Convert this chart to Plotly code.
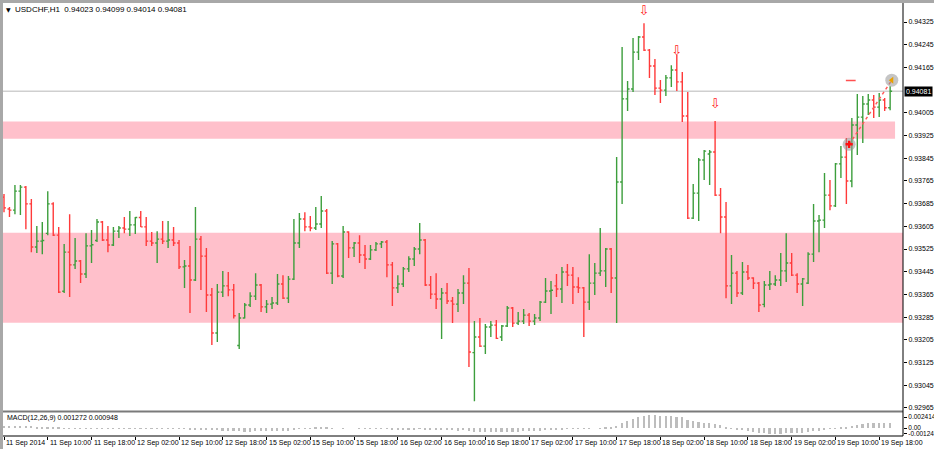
import plotly.graph_objects as go

symbol_title = "USDCHF,H1  0.94023 0.94099 0.94014 0.94081"
macd_title = "MACD(12,26,9) 0.001272 0.000948"

time_labels = ["11 Sep 2014", "11 Sep 10:00", "11 Sep 18:00", "12 Sep 02:00", "12 Sep 10:00",
               "12 Sep 18:00", "15 Sep 02:00", "15 Sep 10:00", "15 Sep 18:00", "16 Sep 02:00",
               "16 Sep 10:00", "16 Sep 18:00", "17 Sep 02:00", "17 Sep 10:00", "17 Sep 18:00",
               "18 Sep 02:00", "18 Sep 10:00", "18 Sep 18:00", "19 Sep 02:00", "19 Sep 10:00",
               "19 Sep 18:00"]
bars_per_label = 8

price_tick_labels = ["0.94325", "0.94245", "0.94165", "0.94005", "0.93925", "0.93845", "0.93765",
                     "0.93685", "0.93605", "0.93525", "0.93445", "0.93365", "0.93285", "0.93205",
                     "0.93125", "0.93045", "0.92965"]
macd_tick_vals = [0.002414, 0.0, -0.00124]
macd_tick_labels = ["0.002414", "0.00", "-0.00124"]

opens = [0.93708,0.93666,0.93662,0.93729,0.93743,0.93684,0.93532,0.93553,0.93580,0.93684,
         0.93574,0.93376,0.93514,0.93469,0.93483,0.93437,0.93536,0.93555,0.93620,0.93557,
         0.93539,0.93588,0.93599,0.93595,0.93610,0.93636,0.93603,0.93553,0.93546,0.93560,
         0.93553,0.93557,0.93546,0.93462,0.93465,0.93416,0.93560,0.93500,0.93363,0.93229,
         0.93373,0.93395,0.93381,0.93185,0.93282,0.93328,0.93359,0.93398,0.93321,0.93331,
         0.93335,0.93402,0.93352,0.93419,0.93546,0.93631,0.93603,0.93599,0.93613,0.93659,
         0.93440,0.93543,0.93430,0.93585,0.93529,0.93546,0.93504,0.93490,0.93522,0.93543,
         0.93550,0.93469,0.93388,0.93402,0.93455,0.93490,0.93525,0.93557,0.93398,0.93366,
         0.93349,0.93370,0.93342,0.93331,0.93370,0.93405,0.93160,0.93215,0.93183,0.93250,
         0.93257,0.93215,0.93254,0.93317,0.93264,0.93271,0.93292,0.93271,0.93282,0.93338,
         0.93377,0.93395,0.93384,0.93444,0.93433,0.93391,0.93388,0.93338,0.93405,0.93440,
         0.93448,0.93525,0.93423,0.93761,0.94054,0.94089,0.94219,0.94272,0.94226,0.94170,
         0.94092,0.94085,0.94128,0.94156,0.94114,0.93994,0.93634,0.93722,0.93839,0.93860,
         0.93867,0.93715,0.93638,0.93395,0.93440,0.93370,0.93444,0.93423,0.93405,0.93330,
         0.93398,0.93402,0.93416,0.93448,0.93476,0.93433,0.93402,0.93405,0.93507,0.93624,
         0.93627,0.93715,0.93677,0.93825,0.93849,0.93765,0.93962,0.93990,0.94036,0.94050,
         0.94025,0.94050,0.94023]

highs = [0.93719,0.93673,0.93751,0.93751,0.93747,0.93701,0.93606,0.93620,0.93729,0.93690,
         0.93603,0.93543,0.93648,0.93564,0.93486,0.93581,0.93592,0.93631,0.93624,0.93606,
         0.93603,0.93606,0.93638,0.93659,0.93638,0.93659,0.93638,0.93585,0.93588,0.93624,
         0.93624,0.93603,0.93557,0.93486,0.93536,0.93673,0.93571,0.93529,0.93388,0.93402,
         0.93448,0.93444,0.93402,0.93300,0.93335,0.93373,0.93440,0.93402,0.93345,0.93356,
         0.93437,0.93433,0.93430,0.93631,0.93652,0.93655,0.93641,0.93673,0.93712,0.93666,
         0.93553,0.93546,0.93606,0.93588,0.93550,0.93574,0.93539,0.93539,0.93550,0.93553,
         0.93557,0.93479,0.93433,0.93462,0.93500,0.93532,0.93617,0.93560,0.93430,0.93440,
         0.93388,0.93405,0.93356,0.93384,0.93433,0.93458,0.93271,0.93282,0.93261,0.93271,
         0.93275,0.93257,0.93324,0.93321,0.93303,0.93314,0.93300,0.93296,0.93342,0.93423,
         0.93412,0.93437,0.93462,0.93472,0.93462,0.93426,0.93391,0.93507,0.93476,0.93599,
         0.93529,0.93529,0.93849,0.94237,0.94117,0.94269,0.94276,0.94321,0.94230,0.94195,
         0.94121,0.94138,0.94173,0.94209,0.94149,0.94078,0.93754,0.93846,0.93874,0.93874,
         0.93976,0.93740,0.93691,0.93504,0.93448,0.93479,0.93469,0.93426,0.93409,0.93412,
         0.93448,0.93433,0.93511,0.93581,0.93511,0.93440,0.93423,0.93514,0.93684,0.93645,
         0.93793,0.93768,0.93828,0.93888,0.93916,0.93987,0.94071,0.94064,0.94071,0.94068,
         0.94075,0.94057,0.94099]

lows = [0.93655,0.93638,0.93648,0.93645,0.93595,0.93514,0.93511,0.93507,0.93574,0.93571,
        0.93370,0.93370,0.93356,0.93455,0.93405,0.93423,0.93476,0.93550,0.93553,0.93514,
        0.93536,0.93564,0.93581,0.93571,0.93578,0.93603,0.93536,0.93536,0.93476,0.93543,
        0.93529,0.93536,0.93455,0.93388,0.93300,0.93412,0.93381,0.93303,0.93187,0.93197,
        0.93356,0.93359,0.93280,0.93173,0.93280,0.93321,0.93345,0.93303,0.93300,0.93314,
        0.93328,0.93349,0.93335,0.93416,0.93529,0.93588,0.93588,0.93592,0.93599,0.93437,
        0.93402,0.93426,0.93423,0.93493,0.93497,0.93476,0.93455,0.93486,0.93518,0.93529,
        0.93426,0.93324,0.93370,0.93391,0.93444,0.93465,0.93507,0.93395,0.93349,0.93314,
        0.93208,0.93331,0.93264,0.93303,0.93331,0.93109,0.92989,0.93180,0.93155,0.93215,
        0.93208,0.93201,0.93250,0.93250,0.93257,0.93261,0.93254,0.93257,0.93271,0.93335,
        0.93296,0.93356,0.93335,0.93395,0.93331,0.93370,0.93215,0.93310,0.93363,0.93430,
        0.93391,0.93370,0.93264,0.93684,0.94011,0.94078,0.94191,0.94223,0.94128,0.94068,
        0.94040,0.94064,0.94096,0.94082,0.93973,0.93631,0.93631,0.93624,0.93768,0.93751,
        0.93712,0.93581,0.93352,0.93331,0.93356,0.93363,0.93416,0.93384,0.93303,0.93320,
        0.93381,0.93395,0.93395,0.93409,0.93430,0.93370,0.93324,0.93402,0.93479,0.93514,
        0.93599,0.93662,0.93673,0.93775,0.93684,0.93743,0.93856,0.93899,0.93997,0.93987,
        0.93990,0.94011,0.94014]

closes = [0.93670,0.93662,0.93729,0.93743,0.93684,0.93532,0.93553,0.93555,0.93684,0.93574,
          0.93373,0.93514,0.93469,0.93483,0.93437,0.93536,0.93540,0.93620,0.93557,0.93539,
          0.93588,0.93599,0.93595,0.93610,0.93636,0.93603,0.93553,0.93546,0.93560,0.93553,
          0.93557,0.93546,0.93462,0.93465,0.93416,0.93560,0.93500,0.93363,0.93229,0.93373,
          0.93395,0.93381,0.93290,0.93282,0.93328,0.93359,0.93398,0.93321,0.93331,0.93335,
          0.93402,0.93352,0.93419,0.93546,0.93631,0.93603,0.93599,0.93613,0.93659,0.93440,
          0.93543,0.93430,0.93585,0.93529,0.93546,0.93504,0.93490,0.93522,0.93543,0.93550,
          0.93469,0.93388,0.93402,0.93455,0.93490,0.93525,0.93557,0.93398,0.93366,0.93349,
          0.93370,0.93342,0.93331,0.93370,0.93405,0.93162,0.93215,0.93183,0.93250,0.93257,
          0.93210,0.93254,0.93317,0.93264,0.93271,0.93292,0.93271,0.93282,0.93338,0.93377,
          0.93380,0.93384,0.93444,0.93433,0.93391,0.93388,0.93338,0.93405,0.93440,0.93448,
          0.93525,0.93423,0.93761,0.94054,0.94089,0.94219,0.94272,0.94226,0.94170,0.94092,
          0.94085,0.94128,0.94156,0.94114,0.93994,0.93634,0.93722,0.93839,0.93870,0.93867,
          0.93715,0.93638,0.93395,0.93440,0.93370,0.93444,0.93423,0.93405,0.93328,0.93398,
          0.93402,0.93416,0.93448,0.93476,0.93433,0.93402,0.93420,0.93507,0.93624,0.93627,
          0.93715,0.93677,0.93825,0.93849,0.93765,0.93962,0.93990,0.94036,0.94050,0.94025,
          0.94050,0.94023,0.94081]

macd_main = [0.00050,0.00050,0.00052,0.00055,0.00055,0.00048,0.00040,0.00035,0.00033,0.00030,
             0.00015,0.00008,0.00002,-0.00002,-0.00008,-0.00008,-0.00007,-0.00004,-0.00003,-0.00003,
             -0.00001,0.00001,0.00002,0.00004,0.00006,0.00006,0.00005,0.00003,0.00002,0.00002,
             0.00002,0.00001,-0.00005,-0.00012,-0.00020,-0.00015,-0.00017,-0.00025,-0.00040,-0.00045,
             -0.00048,-0.00050,-0.00058,-0.00066,-0.00070,-0.00070,-0.00066,-0.00066,-0.00066,-0.00064,
             -0.00056,-0.00053,-0.00046,-0.00030,-0.00012,-0.00002,0.00005,0.00012,0.00020,0.00010,
             0.00008,0.00000,0.00002,0.00000,0.00000,-0.00002,-0.00004,-0.00004,-0.00003,-0.00002,
             -0.00006,-0.00015,-0.00020,-0.00022,-0.00020,-0.00015,-0.00008,-0.00014,-0.00022,-0.00030,
             -0.00035,-0.00040,-0.00045,-0.00046,-0.00044,-0.00060,-0.00070,-0.00080,-0.00082,-0.00082,
             -0.00084,-0.00082,-0.00076,-0.00074,-0.00070,-0.00065,-0.00062,-0.00058,-0.00052,-0.00042,
             -0.00035,-0.00028,-0.00018,-0.00012,-0.00010,-0.00008,-0.00012,-0.00006,0.00000,0.00005,
             0.00012,0.00010,0.00045,0.00110,0.00160,0.00210,0.00250,0.00275,0.00285,0.00285,
             0.00278,0.00272,0.00270,0.00262,0.00245,0.00195,0.00160,0.00140,0.00130,0.00118,
             0.00095,0.00070,0.00030,0.00002,-0.00025,-0.00045,-0.00062,-0.00078,-0.00095,-0.00105,
             -0.00112,-0.00115,-0.00112,-0.00105,-0.00100,-0.00098,-0.00095,-0.00085,-0.00065,-0.00050,
             -0.00028,-0.00012,0.00008,0.00030,0.00042,0.00062,0.00082,0.00098,0.00110,0.00118,
             0.00125,0.00126,0.001272]

bid_price = 0.94081
zone_low = [0.93914, 0.93265]
zone_high = [0.93974, 0.93582]
zone_end_bar = [162.9, 170.0]

fractal_bars = [117, 123, 130]
fractal_prices = [0.94362, 0.94220, 0.94032]

trade_bars = [154.5, 162.3]
trade_prices = [0.93894, 0.94120]
level_bar = [154.8]
level_price = [0.94119]

# ---------------- layout geometry ----------------
W, H = 934, 450
ML, MR, MT, MB = 3, 31, 3, 14
PW = W - ML - MR
PH = H - MT - MB
BAR_PX, BAR0_PX = 5.47, 4.0


def fx(px):
    return (px - ML) / PW


def fy(py):
    return (H - MB - py) / PH


x_range = [(ML - BAR0_PX) / BAR_PX, (W - MR - BAR0_PX) / BAR_PX]
price_range = [0.92956, 0.94392]
macd_range = [-0.00176, 0.0034]
FONT = "Liberation Sans"

idx = list(range(len(opens)))

fig = go.Figure()

fig.add_trace(go.Ohlc(
    x=idx, open=opens, high=highs, low=lows, close=closes,
    increasing=dict(line=dict(color="#3C9E3C", width=1.4)),
    decreasing=dict(line=dict(color="#FF3A3A", width=1.4)),
    tickwidth=0.36, hoverinfo="skip", showlegend=False,
    xaxis="x", yaxis="y"))

fig.add_trace(go.Scatter(
    x=fractal_bars, y=fractal_prices, mode="text", text=["⇩"] * len(fractal_bars),
    textfont=dict(color="#FF2020", size=13, family="DejaVu Sans"),
    hoverinfo="skip", showlegend=False, xaxis="x", yaxis="y"))

fig.add_trace(go.Scatter(
    x=trade_bars, y=trade_prices, mode="lines",
    line=dict(color="#FF5A5A", width=1.5, dash="dot"),
    hoverinfo="skip", showlegend=False, xaxis="x", yaxis="y"))

fig.add_trace(go.Scatter(
    x=trade_bars, y=trade_prices, mode="markers",
    marker=dict(symbol="circle", size=13, color="rgba(150,150,150,0.55)",
                line=dict(width=0)),
    hoverinfo="skip", showlegend=False, xaxis="x", yaxis="y"))

fig.add_trace(go.Scatter(
    x=trade_bars[:1], y=trade_prices[:1], mode="markers",
    marker=dict(symbol="cross", size=6, color="#FF1010", line=dict(width=0)),
    hoverinfo="skip", showlegend=False, xaxis="x", yaxis="y"))

fig.add_trace(go.Scatter(
    x=trade_bars[1:], y=trade_prices[1:], mode="markers",
    marker=dict(symbol="triangle-left", size=6, color="#E8A000", line=dict(width=0)),
    hoverinfo="skip", showlegend=False, xaxis="x", yaxis="y"))

fig.add_trace(go.Scatter(
    x=level_bar, y=level_price, mode="markers",
    marker=dict(symbol="line-ew", size=7, line=dict(color="#FF5050", width=1.6)),
    hoverinfo="skip", showlegend=False, xaxis="x", yaxis="y"))

fig.add_trace(go.Bar(
    x=idx, y=macd_main, width=0.3, marker=dict(color="#BDBDBD", line=dict(width=0)),
    hoverinfo="skip", showlegend=False, xaxis="x2", yaxis="y2"))

shapes = []
for lo, hi, end in zip(zone_low, zone_high, zone_end_bar):
    shapes.append(dict(type="rect", xref="x", yref="y", x0=x_range[0], x1=end,
                       y0=lo, y1=hi, fillcolor="#FFC0CB", line=dict(width=0), layer="below"))
shapes.append(dict(type="line", xref="paper", yref="y", x0=0, x1=1, y0=bid_price, y1=bid_price,
                   line=dict(color="#CFCFCF", width=1.6), layer="below"))
# panel separator
shapes.append(dict(type="line", xref="paper", yref="paper", x0=0, x1=1,
                   y0=fy(411.6), y1=fy(411.6), line=dict(color="#7A7A7A", width=2)))
# right axis line
shapes.append(dict(type="line", xref="paper", yref="paper", x0=1, x1=1,
                   y0=0, y1=fy(3), line=dict(color="#000000", width=1)))
# bottom line
shapes.append(dict(type="line", xref="paper", yref="paper", x0=0, x1=1,
                   y0=0, y1=0, line=dict(color="#000000", width=1)))
# window frame left and top
shapes.append(dict(type="line", xref="paper", yref="paper", x0=fx(1.5), x1=fx(1.5),
                   y0=fy(449), y1=fy(0), line=dict(color="#A8A8A8", width=3)))
shapes.append(dict(type="line", xref="paper", yref="paper", x0=fx(0), x1=fx(W),
                   y0=fy(1.5), y1=fy(1.5), line=dict(color="#A8A8A8", width=3)))

annotations = []
annotations.append(dict(xref="paper", yref="paper", x=fx(4), y=fy(9), xanchor="left",
                        yanchor="middle", text="▼", showarrow=False,
                        font=dict(size=6, color="#000000", family="DejaVu Sans")))
annotations.append(dict(xref="paper", yref="paper", x=fx(13), y=fy(9), xanchor="left",
                        yanchor="middle", text=symbol_title, showarrow=False,
                        font=dict(size=8, color="#000000", family=FONT)))
annotations.append(dict(xref="paper", yref="paper", x=fx(5), y=fy(418), xanchor="left",
                        yanchor="middle", text=macd_title, showarrow=False,
                        font=dict(size=7, color="#000000", family=FONT)))
annotations.append(dict(xref="paper", yref="y", x=1, y=bid_price, xanchor="left",
                        yanchor="middle", xshift=1, text=f"{bid_price:.5f}",
                        showarrow=False, bgcolor="#000000", borderpad=1,
                        font=dict(size=7, color="#FFFFFF", family=FONT)))
for i, lab in enumerate(time_labels):
    annotations.append(dict(xref="x2", yref="paper", x=i * bars_per_label, y=fy(443),
                            xanchor="left", yanchor="middle", xshift=0, text=lab,
                            showarrow=False, font=dict(size=7, color="#000000", family=FONT)))

fig.update_layout(
    width=W, height=H,
    margin=dict(l=ML, r=MR, t=MT, b=MB, pad=0),
    paper_bgcolor="#FFFFFF", plot_bgcolor="#FFFFFF",
    showlegend=False, bargap=0,
    shapes=shapes, annotations=annotations,
    xaxis=dict(domain=[0, 1], anchor="y", range=x_range, showticklabels=False,
               showgrid=False, zeroline=False, showline=False, ticks="",
               rangeslider=dict(visible=False), fixedrange=True),
    yaxis=dict(domain=[fy(410.5), 1], anchor="x", side="right", range=price_range,
               tickvals=[float(t) for t in price_tick_labels], ticktext=price_tick_labels,
               ticks="outside", ticklen=3, tickcolor="#000000", showgrid=False,
               zeroline=False, showline=False, automargin=False,
               tickfont=dict(size=7, color="#000000", family=FONT)),
    xaxis2=dict(domain=[0, 1], anchor="y2", range=x_range, showticklabels=False,
                tickvals=[i * bars_per_label for i in range(len(time_labels))],
                ticks="outside", ticklen=3, tickcolor="#000000",
                showgrid=False, zeroline=False, showline=False),
    yaxis2=dict(domain=[0, fy(412.6)], anchor="x2", side="right", range=macd_range,
                tickvals=macd_tick_vals, ticktext=macd_tick_labels,
                ticks="outside", ticklen=3, tickcolor="#000000", showgrid=False,
                zeroline=False, showline=False, automargin=False,
                tickfont=dict(size=6.5, color="#000000", family=FONT)),
)

fig.write_html("out.html", config={"displayModeBar": False},
               post_script="document.body.style.margin='0px';document.body.style.padding='0px';")
